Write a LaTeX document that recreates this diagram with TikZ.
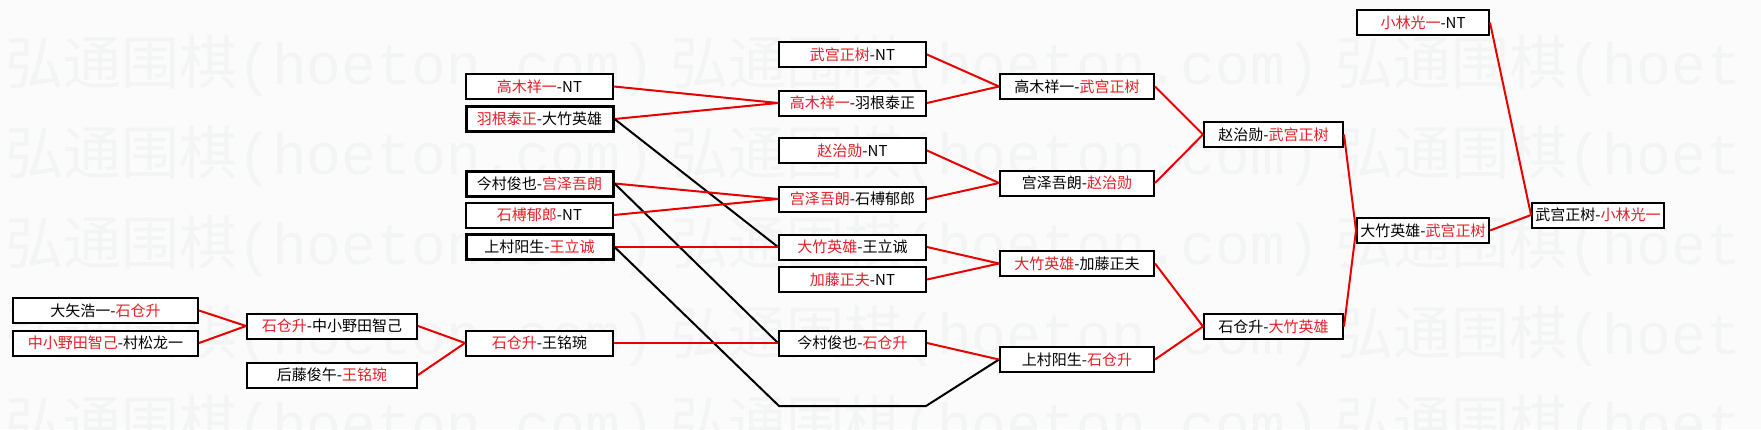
\documentclass[tikz,border=0pt]{standalone}
\usepackage{fontspec}
\setmainfont{Noto Sans CJK SC}
\newfontfamily\wmlat{Liberation Mono}
\definecolor{txtred}{RGB}{228,30,38}
\definecolor{linered}{RGB}{232,0,0}
\definecolor{wm}{RGB}{243,244,244}
\definecolor{bg}{RGB}{251,251,251}
\newcommand{\hl}[1]{\textcolor{txtred}{#1}}
\tikzset{
 box/.style={draw=black, line width=2pt, fill=white, minimum height=25pt, inner sep=0pt, font=\fontsize{15}{15}\selectfont, text=black},
 tbox/.style={box, line width=3pt},
 win/.style={draw=linered, line width=2pt},
 lose/.style={draw=black, line width=2pt},
 wmark/.style={text=wm, inner sep=0pt, anchor=west, font=\fontsize{58}{58}\selectfont}
}
\begin{document}
\begin{tikzpicture}[x=1pt,y=-1pt]
\clip (0,0) rectangle (1761,429);
\fill[bg] (0,0) rectangle (1761,429);
\foreach \yy/\i in {66/1,156/2,246/3,336/4,426/5} {
  \node[wmark] (wm\i a) at (5,\yy) {弘通围棋{\wmlat (hoeton.com)}};
  \node[wmark] (wm\i b) at (670,\yy) {弘通围棋{\wmlat (hoeton.com)}};
  \node[wmark] (wm\i c) at (1335,\yy) {弘通围棋{\wmlat (hoet}};
}
% round 0
\node[box, minimum width=185pt] (a1) at (105.5,310.5) {大矢浩一-\hl{石仓升}};
\node[box, minimum width=185pt] (a2) at (105.5,343) {\hl{中小野田智己}-村松龙一};
% round 1
\node[box, minimum width=170pt] (b1) at (332,326) {\hl{石仓升}-中小野田智己};
\node[box, minimum width=170pt] (b2) at (332,375) {后藤俊午-\hl{王铭琬}};
% round 2
\node[box, minimum width=147pt] (c1) at (539.5,86.5) {\hl{高木祥一}-NT};
\node[tbox, minimum width=147pt] (c2) at (539.5,119) {\hl{羽根泰正}-大竹英雄};
\node[tbox, minimum width=147pt] (c3) at (539.5,183.5) {今村俊也-\hl{宫泽吾朗}};
\node[box, minimum width=147pt] (c4) at (539.5,215) {\hl{石榑郁郎}-NT};
\node[tbox, minimum width=147pt] (c5) at (539.5,247) {上村阳生-\hl{王立诚}};
\node[box, minimum width=147pt] (c6) at (539.5,343) {\hl{石仓升}-王铭琬};
% round 3
\node[box, minimum width=147pt] (d1) at (852.5,54.5) {\hl{武宫正树}-NT};
\node[box, minimum width=147pt] (d2) at (852.5,103) {\hl{高木祥一}-羽根泰正};
\node[box, minimum width=147pt] (d3) at (852.5,150.5) {\hl{赵治勋}-NT};
\node[box, minimum width=147pt] (d4) at (852.5,199) {\hl{宫泽吾朗}-石榑郁郎};
\node[box, minimum width=147pt] (d5) at (852.5,247) {\hl{大竹英雄}-王立诚};
\node[box, minimum width=147pt] (d6) at (852.5,279.5) {\hl{加藤正夫}-NT};
\node[box, minimum width=147pt] (d7) at (852.5,343) {今村俊也-\hl{石仓升}};
% round 4
\node[box, minimum width=154pt] (e1) at (1077,86.5) {高木祥一-\hl{武宫正树}};
\node[box, minimum width=154pt] (e2) at (1077,183) {宫泽吾朗-\hl{赵治勋}};
\node[box, minimum width=154pt] (e3) at (1077,263.5) {\hl{大竹英雄}-加藤正夫};
\node[box, minimum width=154pt] (e4) at (1077,359.5) {上村阳生-\hl{石仓升}};
% round 5
\node[box, minimum width=139pt] (f1) at (1273.5,134.5) {赵治勋-\hl{武宫正树}};
\node[box, minimum width=139pt] (f2) at (1273.5,326.5) {石仓升-\hl{大竹英雄}};
% round 6
\node[box, minimum width=132pt] (g0) at (1423,22.5) {\hl{小林光一}-NT};
\node[box, minimum width=132pt] (g1) at (1423,230.5) {大竹英雄-\hl{武宫正树}};
% final
\node[box, minimum width=132pt] (h) at (1598,215) {武宫正树-\hl{小林光一}};
% connectors
\draw[win] (a1.east) -- (b1.west);
\draw[win] (a2.east) -- (b1.west);
\draw[win] (b1.east) -- (c6.west);
\draw[win] (b2.east) -- (c6.west);
\draw[win] (c1.east) -- (d2.west);
\draw[win] (c2.east) -- (d2.west);
\draw[lose] (c2.east) -- (d5.west);
\draw[win] (c3.east) -- (d4.west);
\draw[lose] (c3.east) -- (d7.west);
\draw[win] (c4.east) -- (d4.west);
\draw[win] (c5.east) -- (d5.west);
\coordinate (k1) at (779,406);
\coordinate (k2) at (926,406);
\draw[lose] (c5.east) -- (k1) -- (k2) -- (e4.west);
\draw[win] (c6.east) -- (d7.west);
\draw[win] (d1.east) -- (e1.west);
\draw[win] (d2.east) -- (e1.west);
\draw[win] (d3.east) -- (e2.west);
\draw[win] (d4.east) -- (e2.west);
\draw[win] (d5.east) -- (e3.west);
\draw[win] (d6.east) -- (e3.west);
\draw[win] (d7.east) -- (e4.west);
\draw[win] (e1.east) -- (f1.west);
\draw[win] (e2.east) -- (f1.west);
\draw[win] (e3.east) -- (f2.west);
\draw[win] (e4.east) -- (f2.west);
\draw[win] (f1.east) -- (g1.west);
\draw[win] (f2.east) -- (g1.west);
\draw[win] (g0.east) -- (h.west);
\draw[win] (g1.east) -- (h.west);
\end{tikzpicture}
\end{document}
